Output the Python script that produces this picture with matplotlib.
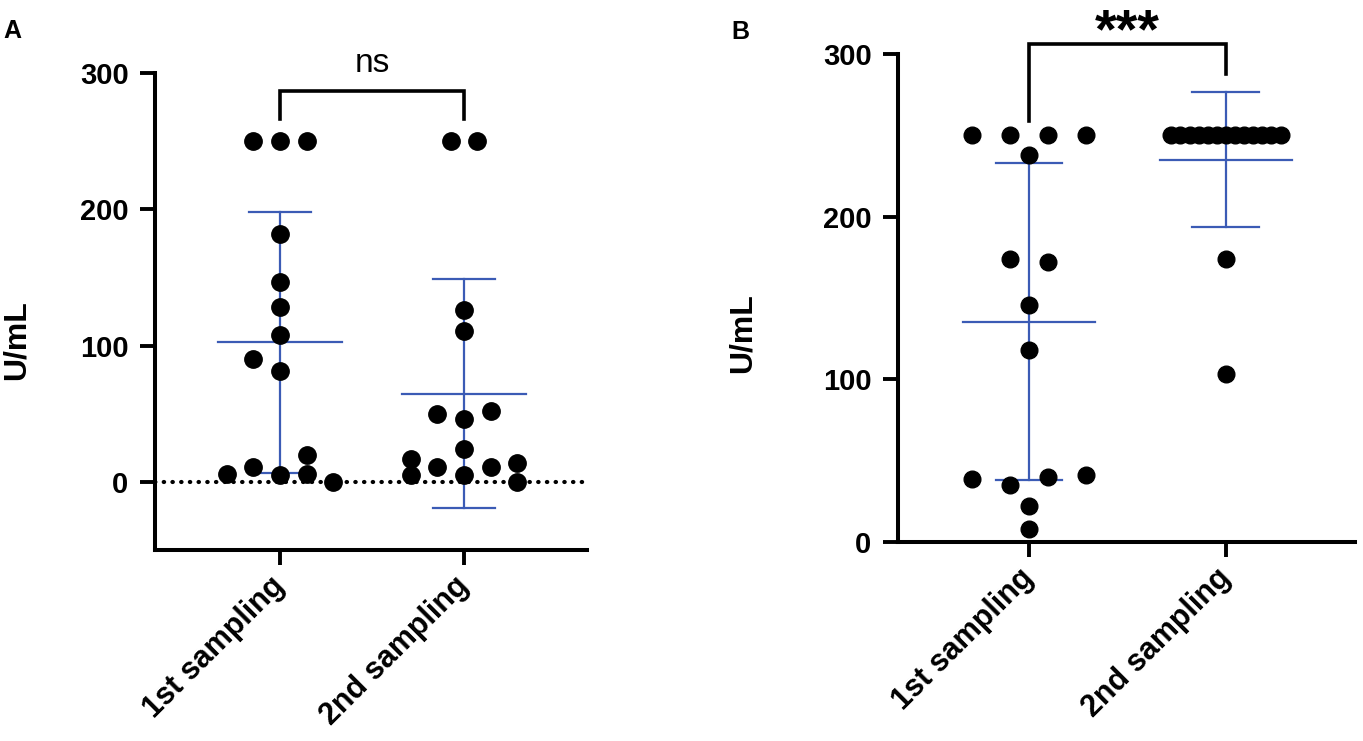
import numpy as np
import matplotlib
matplotlib.use("Agg")
import matplotlib.pyplot as plt

W, H = 1363, 741
BLUE = '#3b5bb5'

plt.rcParams['font.family'] = ['Liberation Sans', 'DejaVu Sans']

groups = ['1st sampling', '2nd sampling']

# panel A (U/mL), with column slot of each dot in the swarm
a_first = [250, 250, 250, 182, 147, 128, 108, 90, 81, 20, 11, 6, 5, 6, 0]
a_first_slot = [-1, 0, 1, 0, 0, 0, 0, -1, 0, 1, -1, -2, 0, 1, 2]
a_second = [250, 250, 126, 111, 50, 52, 46, 24, 17, 11, 11, 14, 5, 5, 0]
a_second_slot = [-0.5, 0.5, 0, 0, -1, 1, 0, 0, -2, -1, 1, 2, -2, 0, 2]

# panel B (U/mL)
b_first = [250, 250, 250, 250, 238, 174, 172, 146, 118, 39, 35, 40, 41, 22, 8]
b_first_slot = [-3, -1, 1, 3, 0, -1, 1, 0, 0, -3, -1, 1, 3, 0, 0]
b_second = [250] * 13 + [174, 103]
b_second_slot = list(range(-6, 7)) + [0, 0]


def px_axes(left, top, right, bottom):
    return [left / W, 1 - bottom / H, (right - left) / W, (bottom - top) / H]


def style_axes(ax, ylim, yticks, xlim):
    ax.set_ylim(*ylim)
    ax.set_xlim(*xlim)
    ax.set_yticks(yticks)
    ax.set_xticks([0, 1])
    for s in ['top', 'right']:
        ax.spines[s].set_visible(False)
    for s in ['left', 'bottom']:
        ax.spines[s].set_linewidth(2.9)
    ax.tick_params(length=11, width=2.8, pad=8, labelsize=21)
    for lab in ax.get_yticklabels():
        lab.set_fontweight('bold')
    ax.set_xticklabels(groups, rotation=45, ha='right', va='center',
                       rotation_mode='anchor', fontsize=22, fontweight='bold')
    ax.tick_params(axis='x', pad=12)


def swarm(ax, values, slots, pos, step, ms):
    vals = np.array(values, dtype=float)
    xs = pos + np.array(slots) * step
    m, sd = vals.mean(), vals.std(ddof=1)
    ax.plot([pos - 0.335, pos + 0.335], [m, m], color=BLUE, lw=1.6, zorder=2)
    ax.plot([pos, pos], [m - sd, m + sd], color=BLUE, lw=1.6, zorder=2)
    for y in (m - sd, m + sd):
        ax.plot([pos - 0.17, pos + 0.17], [y, y], color=BLUE, lw=1.6, zorder=2)
    ax.plot(xs, vals, 'o', color='black', ms=ms, zorder=3, clip_on=False)


def bracket(ax, y_top, y_left, y_right, text, size, weight, ty):
    ax.plot([0, 0, 1, 1], [y_left, y_top, y_top, y_right], color='black',
            lw=2.6, clip_on=False, solid_joinstyle='miter')
    ax.text(0.5, ty, text, ha='center', va='baseline', fontsize=size,
            fontweight=weight, clip_on=False)


fig = plt.figure(figsize=(W / 100, H / 100), dpi=100)

axA = fig.add_axes(px_axes(155, 73, 587, 550))
style_axes(axA, (-50, 300), [0, 100, 200, 300], (-0.679, 1.668))
axA.axhline(0, color='black', lw=3, ls=(0, (0.1, 1.99)),
            dash_capstyle='round', zorder=1)
swarm(axA, a_first, a_first_slot, 0, 0.145, 12.5)
swarm(axA, a_second, a_second_slot, 1, 0.145, 12.5)
bracket(axA, 287, 266, 266, 'ns', 24, 'normal', 301)

axB = fig.add_axes(px_axes(898, 54, 1355, 542))
style_axes(axB, (0, 300), [0, 100, 200, 300], (-0.665, 1.655))
swarm(axB, b_first, b_first_slot, 0, 0.0965, 12)
swarm(axB, b_second, b_second_slot, 1, 0.0462, 12)
bracket(axB, 306, 259, 288, '***', 40, 'bold', 304)

fig.text(17 / W, 1 - 340 / H, 'U/mL', rotation=90, ha='center', va='center',
         fontsize=23, fontweight='bold')
fig.text(743 / W, 1 - 333 / H, 'U/mL', rotation=90, ha='center', va='center',
         fontsize=23, fontweight='bold')
fig.text(3 / W, 1 - 31 / H, 'A', ha='left', va='center', fontsize=18,
         fontweight='bold')
fig.text(731 / W, 1 - 32 / H, 'B', ha='left', va='center', fontsize=18,
         fontweight='bold')

fig.savefig('out.png', dpi=100)
